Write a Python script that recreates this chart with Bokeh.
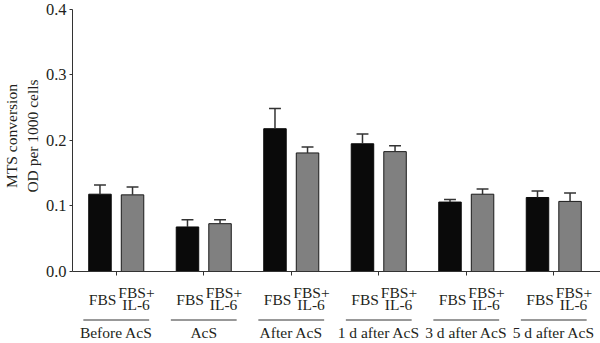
from bokeh.plotting import figure
from bokeh.layouts import column
from bokeh.models import ColumnDataSource, Range1d, FixedTicker, CustomJSTickFormatter
from bokeh.core.properties import value
from bokeh.embed import file_html
from bokeh.resources import INLINE

groups = ["Before AcS", "AcS", "After AcS", "1 d after AcS", "3 d after AcS", "5 d after AcS"]
fbs = [0.118, 0.068, 0.218, 0.195, 0.106, 0.113]
fbs_err = [0.014, 0.011, 0.031, 0.015, 0.004, 0.010]
il6 = [0.117, 0.073, 0.181, 0.183, 0.118, 0.107]
il6_err = [0.012, 0.006, 0.009, 0.009, 0.008, 0.013]
yticks = [0.0, 0.1, 0.2, 0.3, 0.4]
series_labels = ["FBS", "FBS+", "IL-6"]
ylabel = "MTS conversion\nOD per 1000 cells"

FONT = value("Liberation Serif")
TXT = "#231f20"
AX = "#333333"

n = len(groups)
centers = [i + 0.5 for i in range(n)]
off = 0.186
bw = 0.257
cap = 0.068

x_fbs = [c - off for c in centers]
x_il6 = [c + off for c in centers]

src = ColumnDataSource(dict(
    x_fbs=x_fbs, x_il6=x_il6, fbs=fbs, il6=il6,
    fbs_hi=[v + e for v, e in zip(fbs, fbs_err)],
    il6_hi=[v + e for v, e in zip(il6, il6_err)],
    fbs_c0=[x - cap for x in x_fbs], fbs_c1=[x + cap for x in x_fbs],
    il6_c0=[x - cap for x in x_il6], il6_c1=[x + cap for x in x_il6],
    centers=centers, groups=groups,
))

xr = Range1d(0, 6.034)

# ---- main chart (frame spans canvas y 0..271; 0.4 sits 9px below the top) ----
p = figure(width=600, height=280, output_backend="svg", toolbar_location=None,
           x_range=xr, y_range=Range1d(yticks[0], 0.41374),
           min_border_left=70, min_border_right=0, min_border_top=0, min_border_bottom=9)
p.outline_line_color = None
p.xgrid.visible = False
p.ygrid.visible = False
p.background_fill_color = "white"
p.border_fill_color = "white"

ya = p.yaxis[0]
ya.bounds = (yticks[0], yticks[-1])
ya.ticker = FixedTicker(ticks=yticks)
ya.axis_line_color = AX
ya.axis_line_width = 1
ya.major_tick_line_color = AX
ya.major_tick_in = 0
ya.major_tick_out = 3
ya.minor_tick_line_color = None
ya.major_label_text_font = "Liberation Serif"
ya.major_label_text_font_size = "16.5px"
ya.major_label_text_color = TXT
ya.major_label_standoff = 3
ya.formatter = CustomJSTickFormatter(code="return tick.toFixed(1);")
ya.axis_label = ylabel
ya.axis_label_text_font = "Liberation Serif"
ya.axis_label_text_font_size = "15.5px"
ya.axis_label_text_font_style = "normal"
ya.axis_label_text_color = TXT
ya.axis_label_standoff = 2

xa = p.xaxis[0]
xa.ticker = FixedTicker(ticks=centers)
xa.axis_line_color = AX
xa.axis_line_width = 1
xa.major_tick_line_color = AX
xa.major_tick_in = 0
xa.major_tick_out = 4
xa.minor_tick_line_color = None
xa.major_label_text_font_size = "1px"
xa.major_label_text_color = None
xa.major_label_standoff = 0

# bars
p.vbar(x="x_fbs", top="fbs", bottom=0, width=bw, source=src,
       fill_color="#0a0a0a", line_color="#0a0a0a", line_width=1)
p.vbar(x="x_il6", top="il6", bottom=0, width=bw, source=src,
       fill_color="#808080", line_color="#1a1a1a", line_width=1)

# error bars (upper only)
for xs, top, hi, c0, c1 in [("x_fbs", "fbs", "fbs_hi", "fbs_c0", "fbs_c1"),
                            ("x_il6", "il6", "il6_hi", "il6_c0", "il6_c1")]:
    p.segment(x0=xs, y0=top, x1=xs, y1=hi, source=src, line_color=AX, line_width=1.5)
    p.segment(x0=c0, y0=hi, x1=c1, y1=hi, source=src, line_color=AX, line_width=1.5)

# ---- category label strip (pixel units below the x axis) ----
q = figure(width=600, height=63, output_backend="svg", toolbar_location=None,
           x_range=xr, y_range=Range1d(-72, -9),
           min_border_left=70, min_border_right=0, min_border_top=0, min_border_bottom=0)
q.outline_line_color = None
q.xgrid.visible = False
q.ygrid.visible = False
q.xaxis.visible = False
q.yaxis.visible = False
q.background_fill_color = "white"
q.border_fill_color = "white"

q.text(x=[x + 0.03 for x in x_fbs], y=[-28] * n, text=[series_labels[0]] * n,
       text_font=FONT, text_font_size="15.5px", text_color=TXT,
       text_align="center", text_baseline="middle")
q.text(x=[x + 0.045 for x in x_il6], y=[-20.5] * n, text=[series_labels[1]] * n,
       text_font=FONT, text_font_size="15.5px", text_color=TXT,
       text_align="center", text_baseline="middle")
q.text(x=[x + 0.04 for x in x_il6], y=[-32.5] * n, text=[series_labels[2]] * n,
       text_font=FONT, text_font_size="15.5px", text_color=TXT,
       text_align="center", text_baseline="middle")
q.segment(x0=[c - 0.376 for c in centers], y0=-48.5, x1=[c + 0.376 for c in centers], y1=-48.5,
          line_color=AX, line_width=1)
q.text(x="centers", y=-60.7, text="groups", source=src,
       text_font=FONT, text_font_size="15.5px", text_color=TXT,
       text_align="center", text_baseline="middle")

layout = column(p, q, spacing=0)
open("out.html", "w").write(file_html(layout, INLINE))
